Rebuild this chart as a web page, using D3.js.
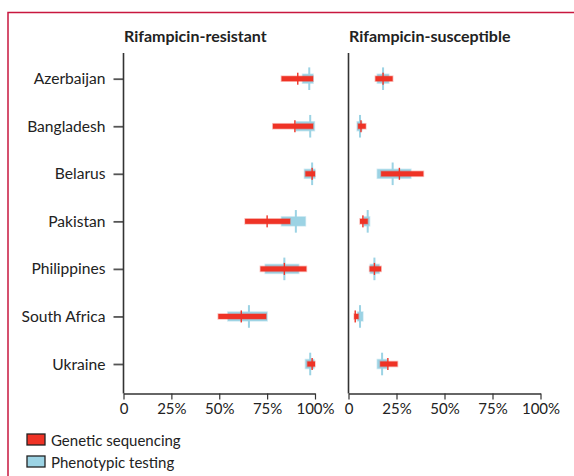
<!DOCTYPE html>
<html lang="en">
<head>
<meta charset="utf-8">
<style>
body { margin:0; background:#fff; }
svg text { font-family: Lato, "Open Sans", sans-serif; fill:#222; }
</style>
<script src="https://cdn.jsdelivr.net/npm/d3@7"></script>
</head>
<body>
<div id="chart"></div>
<script>

// rows
var countries = ["Azerbaijan", "Bangladesh", "Belarus", "Pakistan", "Philippines", "South Africa", "Ukraine"]

// [low, estimate, high] in %
var resGenetic = [[82.5, 91, 99], [78, 89.5, 99], [95, 98.5, 100], [63.5, 75, 87], [71.5, 84, 95.5], [49.5, 61.5, 74.5], [96, 98.5, 100]]
var resPheno   = [[93.5, 97, 99], [90, 97.5, 99.7], [94.5, 98.5, 100], [82.5, 90, 95], [74, 84, 91.5], [54.5, 65.5, 75], [95, 97.5, 99.5]]
var susGenetic = [[14, 18, 23], [5, 6.5, 9], [17, 26.5, 39], [6, 7.5, 10], [11, 13.5, 17], [3, 3.5, 5.2], [16.5, 20.5, 25.5]]
var susPheno   = [[15, 18, 21], [4.5, 6, 7], [15, 23, 32.5], [8, 10, 11], [11.3, 13.5, 16], [4.7, 6, 7.5], [15, 17.5, 20]]

var ticks = [0, 25, 50, 75, 100]
var tickLabels = ["0", "25%", "50%", "75%", "100%"]
var titles = ["Rifampicin-resistant", "Rifampicin-susceptible"]
var legendLabels = ["Genetic sequencing", "Phenotypic testing"]

var width = 574
var height = 476
var red = "#ef3326"
var blue = "#9cd3e4"

var svg = d3.select("#chart").append("svg")
    .attr("width", width)
    .attr("height", height);

// frame
svg.append("path")
    .attr("d", "M8,476V12.5H574")
    .attr("fill", "none")
    .attr("stroke", "#c8173f")
    .attr("stroke-width", 1.5);

var y = d3.scalePoint()
    .domain(countries)
    .range([78.7, 364]);

var axisY = 393.5

var panels = [
  {x: d3.scaleLinear().domain([0, 100]).range([123.5, 315]), gen: resGenetic, phe: resPheno, title: titles[0], labels: true},
  {x: d3.scaleLinear().domain([0, 100]).range([348.5, 540.5]), gen: susGenetic, phe: susPheno, title: titles[1], labels: false}
]

panels.forEach(function(p) {
  var g = svg.append("g");
  var x0 = p.x(0);

  g.append("text")
      .attr("x", x0 + 0.5)
      .attr("y", 42)
      .attr("font-weight", "bold")
      .attr("font-size", "16px")
      .text(p.title);

  // y axis
  if (p.labels) {
    var ya = g.append("g")
        .attr("transform", "translate(" + x0 + ",0)")
        .call(d3.axisLeft(y).tickSize(10).tickPadding(8).tickSizeOuter(0));
    ya.select(".domain").remove();
    ya.selectAll(".tick line").attr("stroke", "#555").attr("stroke-width", 1.8);
    ya.selectAll(".tick text").attr("font-size", "15.6px").attr("fill", "#222")
        .style("font-family", "Lato, sans-serif");
  }
  g.append("line")
      .attr("x1", x0).attr("x2", x0)
      .attr("y1", 53).attr("y2", axisY)
      .attr("stroke", "#333")
      .attr("stroke-width", 1.6);

  // x axis
  var xa = g.append("g")
      .attr("transform", "translate(0," + axisY + ")")
      .call(d3.axisBottom(p.x).tickValues(ticks).tickSize(6).tickSizeOuter(0).tickPadding(4)
        .tickFormat(function(d, i) { return tickLabels[i]; }));
  xa.select(".domain").attr("stroke", "#333").attr("stroke-width", 1.3);
  xa.selectAll(".tick line").attr("stroke", "#333").attr("stroke-width", 1.2);
  xa.selectAll(".tick text").attr("font-size", "15px").attr("fill", "#222")
      .style("font-family", "Lato, sans-serif");

  // phenotypic: wide bar + tall line
  g.selectAll(".pbar").data(p.phe).enter().append("rect")
      .attr("x", function(d) { return p.x(d[0]); })
      .attr("width", function(d) { return p.x(d[2]) - p.x(d[0]); })
      .attr("y", function(d, i) { return y(countries[i]) - 4.5; })
      .attr("height", 9)
      .attr("fill", blue)
      .attr("stroke", blue)
      .attr("stroke-opacity", 0.45)
      .attr("stroke-width", 1.5);

  g.selectAll(".pline").data(p.phe).enter().append("rect")
      .attr("x", function(d) { return p.x(d[1]) - 1; })
      .attr("width", 2)
      .attr("y", function(d, i) { return y(countries[i]) - 11.3; })
      .attr("height", 22.6)
      .attr("fill", blue);

  // genetic: thin red bar + tick
  g.selectAll(".gbar").data(p.gen).enter().append("rect")
      .attr("x", function(d) { return p.x(d[0]); })
      .attr("width", function(d) { return p.x(d[2]) - p.x(d[0]); })
      .attr("y", function(d, i) { return y(countries[i]) - 2.5; })
      .attr("height", 5)
      .attr("fill", red)
      .attr("stroke", red)
      .attr("stroke-opacity", 0.3)
      .attr("stroke-width", 1.6);

  g.selectAll(".gline").data(p.gen).enter().append("rect")
      .attr("x", function(d) { return p.x(d[1]) - 0.7; })
      .attr("width", 1.4)
      .attr("y", function(d, i) { return y(countries[i]) - 6; })
      .attr("height", 12)
      .attr("fill", red);
});

// legend
var leg = svg.append("g");
leg.selectAll("rect").data(legendLabels).enter().append("rect")
    .attr("x", 27)
    .attr("y", function(d, i) { return 434 + i * 22; })
    .attr("width", 18)
    .attr("height", 11)
    .attr("fill", function(d, i) { return i ? blue : red; })
    .attr("stroke", "#222")
    .attr("stroke-width", 1.3);
leg.selectAll("text").data(legendLabels).enter().append("text")
    .attr("x", 51)
    .attr("y", function(d, i) { return 445.5 + i * 22; })
    .attr("font-size", "15px")
    .text(function(d) { return d; });

</script>
</body>
</html>
